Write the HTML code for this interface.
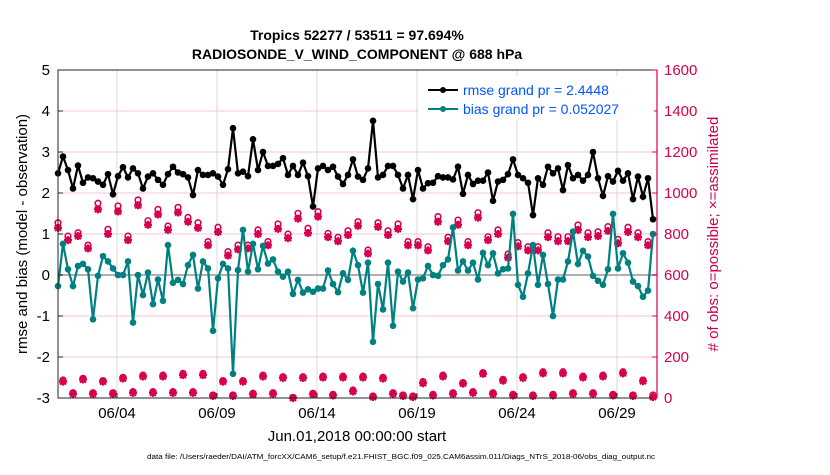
<!DOCTYPE html>
<html><head><meta charset="utf-8"><style>
body{margin:0;background:#fff;width:830px;height:470px;overflow:hidden;font-family:"Liberation Sans",sans-serif}
svg text{font-family:"Liberation Sans",sans-serif}
</style></head><body>
<svg id="chart" width="830" height="470" xmlns="http://www.w3.org/2000/svg">
<text x="357" y="40" font-size="14" font-weight="bold" text-anchor="middle">Tropics 52277 / 53511 = 97.694%</text>
<text x="357" y="59" font-size="14" font-weight="bold" text-anchor="middle">RADIOSONDE_V_WIND_COMPONENT @ 688 hPa</text>
<g id="grid"></g><g id="marks"></g><g id="axes"></g>
<text x="357" y="441" font-size="15" text-anchor="middle">Jun.01,2018 00:00:00 start</text>
<text transform="translate(27,234) rotate(-90)" font-size="15" text-anchor="middle">rmse and bias (model - observation)</text>
<text transform="translate(718,234) rotate(-90)" font-size="15" text-anchor="middle" fill="#cc0052"># of obs: o=possible; ×=assimilated</text>
<text x="147" y="459" font-size="7" textLength="508" lengthAdjust="spacingAndGlyphs">data file: /Users/raeder/DAI/ATM_forcXX/CAM6_setup/f.e21.FHIST_BGC.f09_025.CAM6assim.011/Diags_NTrS_2018-06/obs_diag_output.nc</text>
<g>
<rect x="418" y="76" width="236" height="44" fill="#fff"/>
<line x1="428" x2="458" y1="90" y2="90" stroke="#000" stroke-width="2"/><circle cx="443" cy="90" r="3" fill="#000"/>
<text x="463" y="95" font-size="14" fill="#0055ff">rmse grand pr = 2.4448</text>
<line x1="428" x2="458" y1="109" y2="109" stroke="#008080" stroke-width="2"/><circle cx="443" cy="109" r="3" fill="#008080"/>
<text x="463" y="114" font-size="14" fill="#0055ff">bias grand pr = 0.052027</text>
</g>
</svg>
<script>
const rmse=[2.48,2.89,2.56,2.11,2.67,2.25,2.38,2.36,2.28,2.2,2.46,1.97,2.41,2.63,2.38,2.6,2.48,2.11,2.4,2.48,2.32,2.2,2.46,2.64,2.5,2.46,2.38,1.95,2.56,2.44,2.44,2.48,2.4,2.2,2.58,3.58,2.48,2.52,2.41,3.31,2.56,3.0,2.66,2.66,2.71,2.85,2.44,2.66,2.44,2.74,2.41,1.67,2.6,2.66,2.56,2.64,2.4,2.22,2.44,2.82,
2.4,2.32,2.6,3.76,2.38,2.44,2.66,2.66,2.44,2.11,2.44,1.85,2.56,2.11,2.24,2.25,2.41,2.38,2.38,2.33,2.64,1.98,2.44,2.22,2.3,2.3,2.5,1.81,2.28,2.32,2.46,2.82,2.44,2.36,2.25,1.46,2.36,2.2,2.64,2.48,2.6,2.07,2.68,2.36,2.44,2.3,2.44,3.0,2.36,1.93,2.41,2.28,2.54,2.3,2.48,1.85,2.4,1.91,2.36,1.36];
const bias=[-0.27,0.76,0.14,-0.27,0.22,0.27,0.14,-1.08,-0.02,0.46,0.33,0.16,0,0,0.33,-1.16,0,-0.49,0.06,-0.71,-0.11,-0.63,0.73,-0.19,-0.12,-0.22,0.24,0.49,-0.33,0.33,0.16,-1.36,-0.08,0.27,0.16,-2.41,0.12,1.1,0.08,0.76,0.14,0.71,0.28,0.38,0.08,-0.04,0.08,-0.46,-0.12,-0.43,-0.35,-0.41,-0.33,-0.33,0.11,-0.22,-0.42,0.04,-0.12,0.59,
0.24,-0.43,0.3,-1.63,-0.22,-0.84,0.3,-1.24,0.08,-0.16,0.06,-0.81,-0.11,-0.08,0.22,0,-0.02,0.24,0.38,1.16,0.11,0.33,0.11,0.3,-0.11,0.54,0.24,0.53,0.04,0.14,0.16,1.49,-0.24,-0.53,0.04,0.73,-0.24,0.49,-0.22,-1.0,-0.11,-0.11,0.33,1.06,0.27,0.59,0.45,-0.02,-0.14,-0.24,0.14,1.49,0.16,0.53,0.3,-0.16,-0.27,-0.53,-0.38,1.0];
const possible=[855,88,790,26,806,96,746,26,950,85,823,26,937,101,790,31,966,112,865,31,920,112,839,31,930,120,881,31,855,120,763,15,833,85,714,15,746,85,746,23,820,112,763,26,849,104,800,3,901,104,828,23,909,107,803,18,784,107,816,39,
860,107,722,10,855,101,816,26,849,15,763,10,763,80,738,18,885,112,784,26,868,75,763,31,904,124,787,26,820,91,702,18,758,104,738,15,738,128,806,18,787,128,787,26,844,107,806,26,811,112,836,18,774,128,833,15,806,88,763,15];
const assimilated=[830,80,770,20,790,90,730,20,920,80,800,20,910,95,770,25,940,105,845,25,895,105,820,25,905,112,860,25,830,112,745,10,810,80,695,10,725,80,730,18,800,105,745,20,825,98,780,0,875,98,805,18,885,100,785,12,765,100,795,32,
840,100,705,5,835,95,795,20,825,10,745,5,745,72,720,12,860,105,765,20,845,70,745,25,880,118,770,20,800,85,685,12,740,98,720,10,720,120,785,12,765,120,765,20,820,100,785,20,790,105,815,12,755,120,810,10,785,82,745,5];
const dayStart=0.05, step=0.25;
const dateTicks=[4,9,14,19,24,29];
const dateLabels=["06/04","06/09","06/14","06/19","06/24","06/29"];
const leftTicks=[-3,-2,-1,0,1,2,3,4,5];
const rightTicks=[0,200,400,600,800,1000,1200,1400,1600];

const L=58,R=657,T=70,B=398,NS="http://www.w3.org/2000/svg";
const xDay=t=>57+t*20;
const yL=v=>B-(v+3)/8*(B-T);
const yR=v=>B-v/1600*(B-T);
function mk(tag,attrs,parent){const e=document.createElementNS(NS,tag);for(const k in attrs)e.setAttribute(k,attrs[k]);parent.appendChild(e);return e;}
const grid=document.getElementById('grid'),marks=document.getElementById('marks'),axes=document.getElementById('axes');
rightTicks.forEach(v=>{const l=mk('line',{x1:L,x2:R,y1:yR(v),y2:yR(v),stroke:'#f3c6d6','stroke-width':1},grid);

});
dateTicks.forEach(d=>{const l=mk('line',{x1:xDay(d-1),x2:xDay(d-1),y1:T,y2:B,stroke:'#d8d8d8','stroke-width':1},grid);

});
const z=mk('line',{x1:L,x2:R,y1:yL(0),y2:yL(0),stroke:'#b0b0b0','stroke-width':2},grid);


possible.forEach((v,i)=>{const cx=xDay(dayStart+i*step);
const g=mk('g',{},marks);


mk('circle',{cx:cx,cy:yR(v),r:2.8,fill:'none',stroke:'#d6004c','stroke-width':1.6},g);});
assimilated.forEach((v,i)=>{const cx=xDay(dayStart+i*step),cy=yR(v);
const p=mk('path',{d:`M${cx-4} ${cy}h8M${cx} ${cy-4}v8M${cx-3} ${cy-3}l6 6M${cx-3} ${cy+3}l6 -6`,stroke:'#d6004c','stroke-width':2.2},marks);

});
function series(arr,col,name){
const pts=arr.map((v,i)=>[xDay(dayStart+i*step),yL(v)]);
const pl=mk('polyline',{points:pts.map(p=>p.join(',')).join(' '),fill:'none',stroke:col,'stroke-width':2.2},marks);


pts.forEach(p=>{const c=mk('circle',{cx:p[0],cy:p[1],r:3.3,fill:col},marks);

});}
series(bias,'#008080','bias');
series(rmse,'#000000','rmse');
const f=mk('rect',{x:L,y:T,width:R-L,height:B-T,fill:'none',stroke:'#262626','stroke-width':1},axes);


const ra=mk('line',{x1:R,x2:R,y1:T,y2:B,stroke:'#d6004c','stroke-width':1.2},axes);


leftTicks.forEach(v=>{mk('line',{x1:L,x2:L+5,y1:yL(v),y2:yL(v),stroke:'#262626'},axes);
const t=mk('text',{x:L-8,y:yL(v)+5,'font-size':15,'text-anchor':'end'},axes);t.textContent=v;

});
rightTicks.forEach(v=>{mk('line',{x1:R-5,x2:R,y1:yR(v),y2:yR(v),stroke:'#d6004c'},axes);
const t=mk('text',{x:R+7,y:yR(v)+5,'font-size':15,fill:'#d6004c'},axes);t.textContent=v;

});
dateTicks.forEach((d,i)=>{const x=xDay(d-1);mk('line',{x1:x,x2:x,y1:B-5,y2:B,stroke:'#262626'},axes);
const t=mk('text',{x:x,y:B+20,'font-size':15,'text-anchor':'middle'},axes);t.textContent=dateLabels[i];

});
</script>
</body></html>
